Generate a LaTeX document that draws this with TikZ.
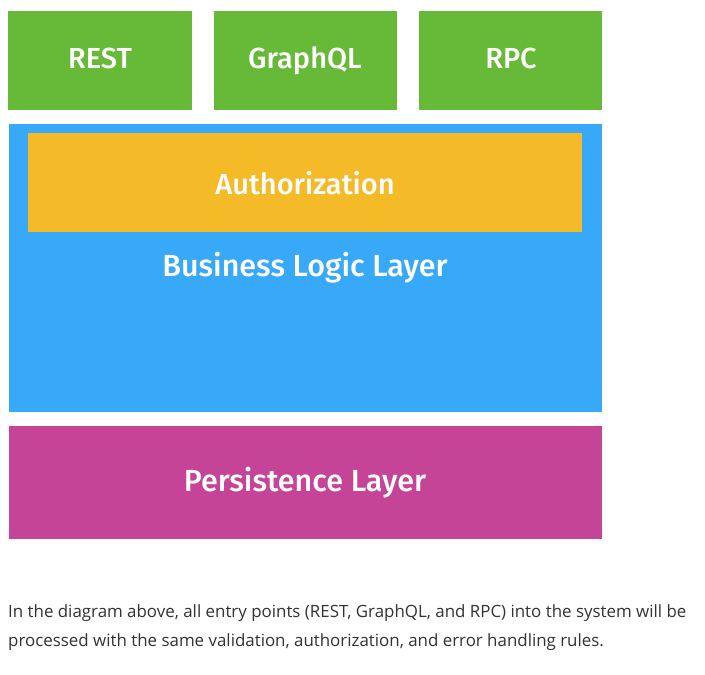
\documentclass[tikz,border=0pt]{standalone}
\usepackage{fontspec}
\setmainfont{Fira Sans}
\newfontfamily\labelfont{Fira Sans Medium}
\newfontfamily\bodyfont{Open Sans}
\definecolor{gr}{HTML}{67BA37}
\definecolor{bl}{HTML}{38A8F8}
\definecolor{og}{HTML}{F4BA28}
\definecolor{mg}{HTML}{C64498}
\definecolor{tx}{HTML}{333333}
\begin{document}
\begin{tikzpicture}[x=1pt,y=-1pt,
  blk/.style={anchor=north west,inner sep=0pt,outer sep=0pt,draw=none,text=white},
  lbl/.style={anchor=base,text=white,inner sep=0pt,font=\labelfont\fontsize{29}{32}\selectfont},
  big/.style={lbl,font=\labelfont\fontsize{30.5}{34}\selectfont},
  body/.style={anchor=base west,inner sep=0pt,text=tx,font=\bodyfont\fontsize{16.9}{20}\selectfont}]
\useasboundingbox (0,0) rectangle (705,675);
\fill[white] (0,0) rectangle (705,675);
\node[blk,fill=gr,minimum width=184pt,minimum height=99pt] (rest) at (8,11) {};
\node[blk,fill=gr,minimum width=183pt,minimum height=99pt] (gql) at (214,11) {};
\node[blk,fill=gr,minimum width=183pt,minimum height=99pt] (rpc) at (419,11) {};
\node[lbl] (restt) at (100,68) {REST};
\node[lbl] (gqlt) at (305,68) {GraphQL};
\node[lbl] (rpct) at (511,68) {RPC};
\node[blk,fill=bl,minimum width=593pt,minimum height=288pt] (bll) at (9,124) {};
\node[blk,fill=og,minimum width=554pt,minimum height=99pt] (auth) at (28,133) {};
\node[lbl] (autht) at (305,194) {Authorization};
\node[big] (bllt) at (305,276) {Business Logic Layer};
\node[blk,fill=mg,minimum width=593pt,minimum height=113pt] (pers) at (9,426) {};
\node[big] (perst) at (305,491) {Persistence Layer};
\node[body] (l1) at (8,617) {In the diagram above, all entry points (REST, GraphQL, and RPC) into the system will be};
\node[body] (l2) at (8,646) {processed with the same validation, authorization, and error handling rules.};
\end{tikzpicture}
\end{document}
